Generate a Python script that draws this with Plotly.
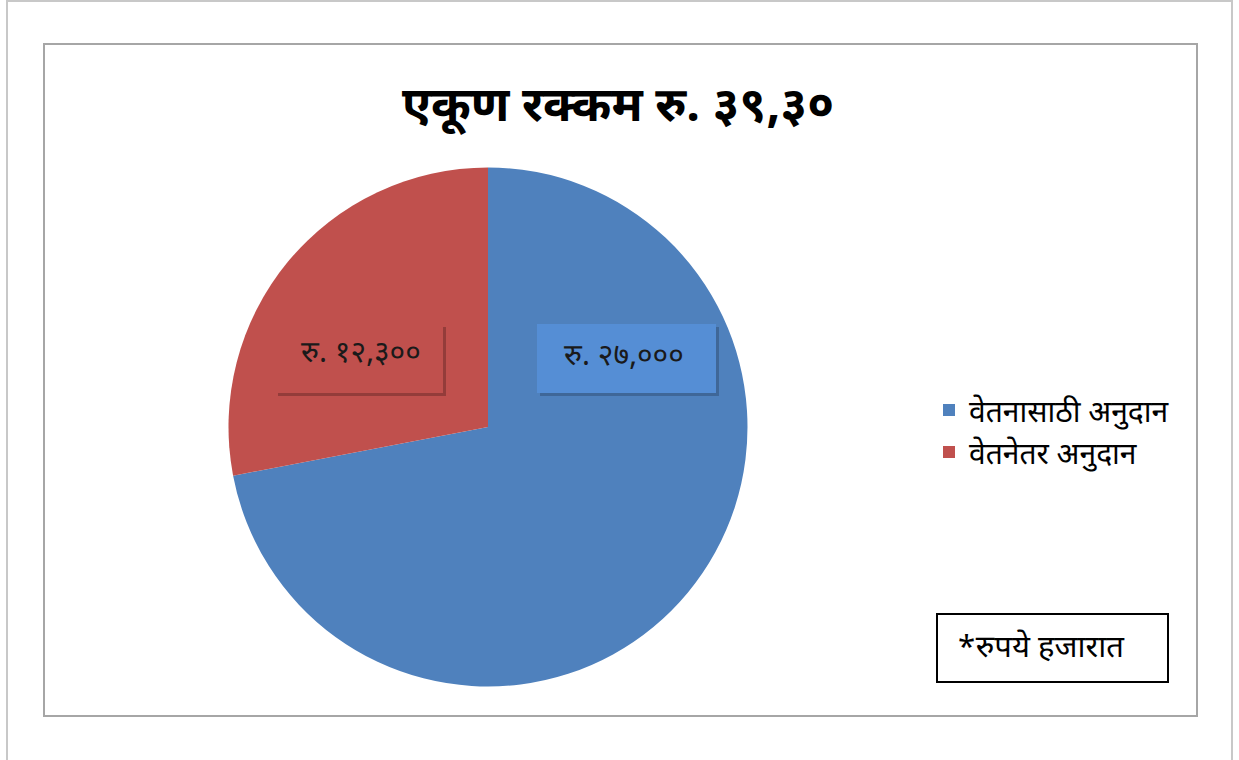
import plotly.graph_objects as go

W, H = 1239, 760

categories = ["वेतनासाठी अनुदान", "वेतनेतर अनुदान"]
# slice sizes as drawn in the picture (red slice ~28% of the circle)
slice_values = [27000, 10500]
# amounts printed on the labels
label_amounts = [27000, 12300]
colors = ["#4F81BD", "#C0504D"]
title_text = "एकूण रक्कम रु. ३९,३०"
note_text = "*रुपये हजारात"

DEV = str.maketrans("0123456789", "०१२३४५६७८९")


def rs(v):
    return "रु. " + f"{v:,}".translate(DEV)


def px(x):
    return x / W


def py(y):
    return 1 - y / H


FONT = "Noto Sans Devanagari, Lohit Devanagari, Noto Sans, DejaVu Sans, sans-serif"

fig = go.Figure()
fig.add_trace(go.Pie(
    labels=categories,
    values=slice_values,
    marker=dict(colors=colors, line=dict(width=0)),
    sort=False,
    direction="clockwise",
    rotation=0,
    textinfo="none",
    hoverinfo="label",
    domain=dict(x=[px(228.5), px(747.5)], y=[py(686.5), py(167.5)]),
))

shapes = [
    # outer page frame
    dict(type="rect", xref="paper", yref="paper", x0=px(7), x1=px(1232), y0=py(762), y1=py(1),
         line=dict(color="#c8c8c8", width=2), fillcolor="rgba(0,0,0,0)", layer="below"),
    # chart area frame
    dict(type="rect", xref="paper", yref="paper", x0=px(44), x1=px(1197), y0=py(716), y1=py(44),
         line=dict(color="#a6a6a6", width=2), fillcolor="rgba(0,0,0,0)", layer="below"),
    # label shadows
    dict(type="rect", xref="paper", yref="paper", x0=px(540), x1=px(719), y0=py(396), y1=py(327),
         line=dict(width=0), fillcolor="#3f6798", layer="above"),
    dict(type="rect", xref="paper", yref="paper", x0=px(278), x1=px(446), y0=py(396), y1=py(327),
         line=dict(width=0), fillcolor="#943c3a", layer="above"),
    dict(type="rect", xref="paper", yref="paper", x0=px(275), x1=px(443), y0=py(393), y1=py(324),
         line=dict(width=0), fillcolor=colors[1], layer="above"),
    dict(type="rect", xref="paper", yref="paper", x0=px(537), x1=px(716), y0=py(393), y1=py(324),
         line=dict(width=0), fillcolor="#558ED5", layer="above"),
    # note box
    dict(type="rect", xref="paper", yref="paper", x0=px(937), x1=px(1168), y0=py(682), y1=py(614),
         line=dict(color="#000000", width=2), fillcolor="white", layer="above"),
]

annotations = [
    dict(text=rs(label_amounts[0]), x=px(624), y=py(357), xref="paper", yref="paper",
         showarrow=False, font=dict(size=30, color="#1a1a1a", family=FONT),
         xanchor="center", yanchor="middle"),
    dict(text=rs(label_amounts[1]), x=px(361), y=py(355), xref="paper", yref="paper",
         showarrow=False, font=dict(size=30, color="#1a1a1a", family=FONT),
         xanchor="center", yanchor="middle"),
    dict(text=note_text, x=px(955), y=py(649), xref="paper", yref="paper",
         showarrow=False, font=dict(size=31, color="#000000", family=FONT),
         xanchor="left", yanchor="middle"),
]

fig.update_layout(
    width=W, height=H,
    margin=dict(l=0, r=0, t=0, b=0),
    paper_bgcolor="white",
    plot_bgcolor="white",
    title=dict(text="<b>" + title_text + "</b>", x=px(618), y=py(104), xanchor="center",
               yanchor="middle", xref="paper", yref="paper",
               font=dict(size=48, color="#000000", family=FONT)),
    legend=dict(x=px(929), y=py(431), xanchor="left", yanchor="middle",
                font=dict(size=30, color="#000000", family=FONT),
                bgcolor="rgba(0,0,0,0)", itemwidth=30, tracegroupgap=0),
    shapes=shapes,
    annotations=annotations,
    showlegend=True,
)

fig.write_html("out.html", config={"displayModeBar": False},
               post_script="document.body.style.margin='0';")
